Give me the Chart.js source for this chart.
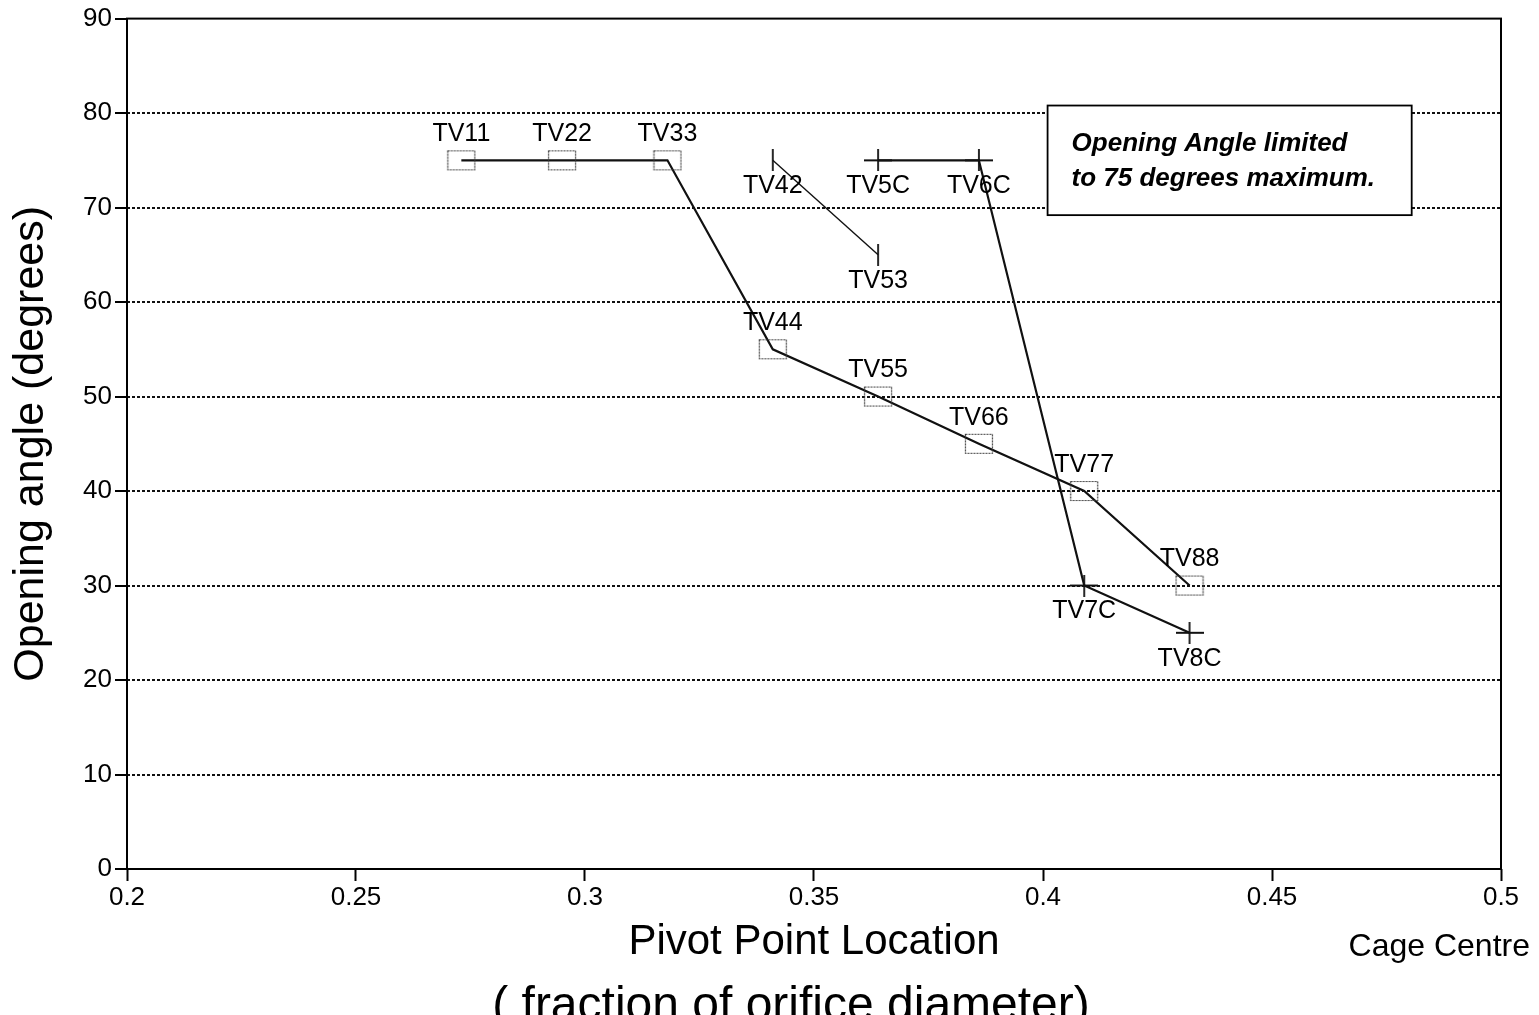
<!DOCTYPE html>
<html>
<head>
<meta charset="utf-8">
<title>Opening angle vs pivot point location</title>
<script src="https://cdn.jsdelivr.net/npm/chart.js@4.4.1/dist/chart.umd.min.js"></script>
<style>
  html, body { margin: 0; padding: 0; background: #fff; }
  #chart { display: block; }
</style>
</head>
<body>
<canvas id="chart" width="1539" height="1015"></canvas>
<script>
// ---- data -------------------------------------------------------------
// Pivot point location (fraction of orifice diameter) and opening angle (deg)
const boxX = [0.273, 0.295, 0.318, 0.341, 0.364, 0.386, 0.409, 0.432];
const boxY = [75, 75, 75, 55, 50, 45, 40, 30];
const boxNames = ['TV11', 'TV22', 'TV33', 'TV44', 'TV55', 'TV66', 'TV77', 'TV88'];

const tickSeriesX = [0.341, 0.364];
const tickSeriesY = [75, 65];
const tickSeriesNames = ['TV42', 'TV53'];

const crossX = [0.364, 0.386, 0.409, 0.432];
const crossY = [75, 75, 30, 25];
const crossNames = ['TV5C', 'TV6C', 'TV7C', 'TV8C'];

const xTickValues = [0.2, 0.25, 0.3, 0.35, 0.4, 0.45, 0.5];
const xTickLabels = ['0.2', '0.25', '0.3', '0.35', '0.4', '0.45', '0.5'];
const yTickValues = [0, 10, 20, 30, 40, 50, 60, 70, 80, 90];
const yTickLabels = ['0', '10', '20', '30', '40', '50', '60', '70', '80', '90'];

const noteLines = ['Opening Angle limited', 'to 75 degrees maximum.'];
const noteBox = { x1: 0.401, x2: 0.4805, y1: 80.8, y2: 69.2 };

const FONT = '"Liberation Sans", Arial, Helvetica, sans-serif';

// ---- marker images ----------------------------------------------------
function makeMarker(w, h, draw) {
  const c = document.createElement('canvas');
  c.width = w; c.height = h;
  draw(c.getContext('2d'), w, h);
  return c;
}
const boxMarker = makeMarker(30, 22, (g, w, h) => {
  g.strokeStyle = '#3a3a3a';
  g.lineWidth = 1.2;
  g.setLineDash([2, 1]);
  g.strokeRect(1.5, 1.5, w - 3, h - 3);
});
const crossMarker = makeMarker(28, 22, (g, w, h) => {
  g.strokeStyle = '#111';
  g.lineWidth = 1.8;
  g.beginPath();
  g.moveTo(0, h / 2); g.lineTo(w, h / 2);
  g.moveTo(w / 2, 0); g.lineTo(w / 2, h);
  g.stroke();
});
const vTickMarker = makeMarker(4, 22, (g, w, h) => {
  g.strokeStyle = '#111';
  g.lineWidth = 1.8;
  g.beginPath();
  g.moveTo(w / 2, 0); g.lineTo(w / 2, h);
  g.stroke();
});

const toPoints = (xs, ys) => xs.map((x, i) => ({ x: x, y: ys[i] }));

// ---- plugins ----------------------------------------------------------
// solid frame round the plotting area
const framePlugin = {
  id: 'frame',
  beforeDatasetsDraw(chart) {
    const { ctx, chartArea: a } = chart;
    ctx.save();
    ctx.strokeStyle = '#000';
    ctx.lineWidth = 2;
    ctx.strokeRect(a.left, a.top, a.right - a.left, a.bottom - a.top);
    ctx.restore();
  }
};

// point names above or below each marker
const pointNamesPlugin = {
  id: 'pointNames',
  afterDatasetsDraw(chart) {
    const ctx = chart.ctx;
    ctx.save();
    ctx.font = '25px ' + FONT;
    ctx.fillStyle = '#000';
    ctx.textAlign = 'center';
    ctx.textBaseline = 'middle';
    chart.data.datasets.forEach((ds, i) => {
      const meta = chart.getDatasetMeta(i);
      meta.data.forEach((pt, j) => {
        const dy = ds.nameSide === 'above' ? -26 : 26;
        ctx.fillText(ds.names[j], pt.x, pt.y + dy);
      });
    });
    ctx.restore();
  }
};

// axis titles and the note box
const titlesPlugin = {
  id: 'titles',
  afterDraw(chart) {
    const { ctx, chartArea: a, scales } = chart;
    ctx.save();
    ctx.fillStyle = '#000';

    // y title
    ctx.save();
    ctx.translate(31, (a.top + a.bottom) / 2);
    ctx.rotate(-Math.PI / 2);
    ctx.font = '43px ' + FONT;
    ctx.textAlign = 'center';
    ctx.textBaseline = 'middle';
    ctx.fillText('Opening angle (degrees)', 0, 0);
    ctx.restore();

    // x titles
    ctx.textAlign = 'center';
    ctx.textBaseline = 'alphabetic';
    ctx.font = '42px ' + FONT;
    ctx.fillText('Pivot Point Location', (a.left + a.right) / 2, a.bottom + 85);
    ctx.font = '48px ' + FONT;
    ctx.fillText('( fraction of orifice diameter)', (a.left + a.right) / 2 - 23, a.bottom + 151);

    ctx.textAlign = 'right';
    ctx.font = '32px ' + FONT;
    ctx.fillText('Cage Centre', a.right + 29, a.bottom + 87);

    // note box
    const x1 = scales.x.getPixelForValue(noteBox.x1);
    const x2 = scales.x.getPixelForValue(noteBox.x2);
    const y1 = scales.y.getPixelForValue(noteBox.y1);
    const y2 = scales.y.getPixelForValue(noteBox.y2);
    ctx.fillStyle = '#fff';
    ctx.fillRect(x1, y1, x2 - x1, y2 - y1);
    ctx.strokeStyle = '#000';
    ctx.lineWidth = 1.8;
    ctx.strokeRect(x1, y1, x2 - x1, y2 - y1);
    ctx.fillStyle = '#000';
    ctx.textAlign = 'left';
    ctx.font = 'italic bold 26px ' + FONT;
    ctx.fillText(noteLines[0], x1 + 24, y1 + 45);
    ctx.fillText(noteLines[1], x1 + 24, y1 + 80);

    ctx.restore();
  }
};

// ---- chart ------------------------------------------------------------
new Chart(document.getElementById('chart'), {
  type: 'scatter',
  data: {
    datasets: [
      {
        data: toPoints(boxX, boxY),
        names: boxNames, nameSide: 'above',
        showLine: true, borderColor: '#111', borderWidth: 2.2,
        pointStyle: boxMarker, pointRadius: 12, pointHoverRadius: 12
      },
      {
        data: toPoints(tickSeriesX, tickSeriesY),
        names: tickSeriesNames, nameSide: 'below',
        showLine: true, borderColor: '#111', borderWidth: 1.4,
        pointStyle: vTickMarker, pointRadius: 11, pointHoverRadius: 11
      },
      {
        data: toPoints(crossX, crossY),
        names: crossNames, nameSide: 'below',
        showLine: true, borderColor: '#111', borderWidth: 2.2,
        pointStyle: crossMarker, pointRadius: 12, pointHoverRadius: 12
      }
    ]
  },
  options: {
    responsive: false,
    animation: false,
    devicePixelRatio: 1,
    layout: { padding: { top: 16, right: 38, left: 0, bottom: 0 } },
    plugins: { legend: { display: false }, tooltip: { enabled: false } },
    scales: {
      x: {
        type: 'linear', min: 0.2, max: 0.5,
        afterFit(s) { s.height = 146; },
        afterBuildTicks(s) { s.ticks = xTickValues.map(v => ({ value: v })); },
        ticks: {
          color: '#000', font: { family: FONT, size: 26 }, padding: 1, maxRotation: 0,
          autoSkip: false,
          callback: (v) => xTickLabels[xTickValues.findIndex(t => Math.abs(t - v) < 1e-9)]
        },
        grid: { drawOnChartArea: false, drawTicks: true, tickLength: 12, tickColor: '#000', tickWidth: 2 },
        border: { display: false }
      },
      y: {
        type: 'linear', min: 0, max: 90,
        afterFit(s) { s.width = 127; },
        afterBuildTicks(s) { s.ticks = yTickValues.map(v => ({ value: v })); },
        ticks: {
          color: '#000', font: { family: FONT, size: 26 }, padding: 3, autoSkip: false,
          callback: (v) => yTickLabels[yTickValues.indexOf(v)]
        },
        grid: {
          color: (c) => (c.tick && (c.tick.value === 0 || c.tick.value === 90)) ? 'rgba(0,0,0,0)' : '#111',
          lineWidth: 2,
          tickLength: 12, tickColor: '#000', tickWidth: 2, tickBorderDash: []
        },
        border: { display: false, dash: [3, 2] }
      }
    }
  },
  plugins: [framePlugin, pointNamesPlugin, titlesPlugin]
});
</script>
</body>
</html>
